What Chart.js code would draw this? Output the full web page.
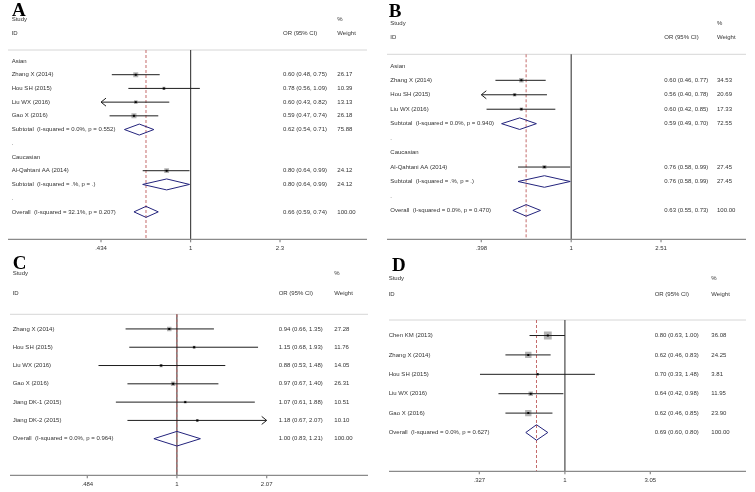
<!DOCTYPE html>
<html>
<head>
<meta charset="utf-8">
<title>Forest plots</title>
<script src="https://cdn.jsdelivr.net/npm/chart.js@4.4.1/dist/chart.umd.min.js"></script>
<style>
  body { margin: 0; background: #fff; }
  canvas { position: absolute; }
</style>
</head>
<body>
<canvas id="chartA" width="377" height="258" style="left:0;top:0"></canvas>
<canvas id="chartB" width="378" height="258" style="left:377px;top:0"></canvas>
<canvas id="chartC" width="377" height="246" style="left:0;top:246px"></canvas>
<canvas id="chartD" width="378" height="246" style="left:377px;top:246px"></canvas>
<script>
// ---- panel A data
const groupsA = ["Asian", "Caucasian"];
const studiesA = ["Zhang X (2014)", "Hou SH (2015)", "Liu WX (2016)", "Gao X (2016)", "Al-Qahtani AA (2014)"];
const groupOfA = [0, 0, 0, 0, 1];
const orA = [0.60, 0.78, 0.60, 0.59, 0.80];
const lowA = [0.48, 0.56, 0.43, 0.47, 0.64];
const highA = [0.75, 1.09, 0.82, 0.74, 0.99];
const weightA = [26.17, 10.39, 13.13, 26.18, 24.12];
const subLabelsA = ["Subtotal  (I-squared = 0.0%, p = 0.552)", "Subtotal  (I-squared = .%, p = .)"];
const subOrA = [0.62, 0.80];
const subLowA = [0.54, 0.64];
const subHighA = [0.71, 0.99];
const subWeightA = [75.88, 24.12];
const overallA = { label: "Overall  (I-squared = 32.1%, p = 0.207)", or: 0.66, low: 0.59, high: 0.74, weight: 100.00 };
const ticksA = [0.434, 1, 2.3];
const tickLabelsA = [".434", "1", "2.3"];

// ---- panel B data
const groupsB = ["Asian", "Caucasian"];
const studiesB = ["Zhang X (2014)", "Hou SH (2015)", "Liu WX (2016)", "Al-Qahtani AA (2014)"];
const groupOfB = [0, 0, 0, 1];
const orB = [0.60, 0.56, 0.60, 0.76];
const lowB = [0.46, 0.398, 0.42, 0.58];
const highB = [0.77, 0.78, 0.85, 0.99];
const weightB = [34.53, 20.69, 17.33, 27.45];
const subLabelsB = ["Subtotal  (I-squared = 0.0%, p = 0.940)", "Subtotal  (I-squared = .%, p = .)"];
const subOrB = [0.59, 0.76];
const subLowB = [0.49, 0.58];
const subHighB = [0.70, 0.99];
const subWeightB = [72.55, 27.45];
const overallB = { label: "Overall  (I-squared = 0.0%, p = 0.470)", or: 0.63, low: 0.55, high: 0.73, weight: 100.00 };
const ticksB = [0.398, 1, 2.51];
const tickLabelsB = [".398", "1", "2.51"];

// ---- panel C data
const studiesC = ["Zhang X (2014)", "Hou SH (2015)", "Liu WX (2016)", "Gao X (2016)", "Jiang DK-1 (2015)", "Jiang DK-2 (2015)"];
const orC = [0.94, 1.15, 0.88, 0.97, 1.07, 1.18];
const lowC = [0.66, 0.68, 0.53, 0.67, 0.61, 0.67];
const highC = [1.35, 1.93, 1.48, 1.40, 1.88, 2.07];
const weightC = [27.28, 11.76, 14.05, 26.31, 10.51, 10.10];
const overallC = { label: "Overall  (I-squared = 0.0%, p = 0.964)", or: 1.00, low: 0.83, high: 1.21, weight: 100.00 };
const ticksC = [0.484, 1, 2.07];
const tickLabelsC = [".484", "1", "2.07"];

// ---- panel D data
const studiesD = ["Chen KM (2013)", "Zhang X (2014)", "Hou SH (2015)", "Liu WX (2016)", "Gao X (2016)"];
const orD = [0.80, 0.62, 0.70, 0.64, 0.62];
const lowD = [0.63, 0.46, 0.33, 0.42, 0.46];
const highD = [1.00, 0.83, 1.48, 0.98, 0.85];
const weightD = [36.08, 24.25, 3.81, 11.95, 23.90];
const overallD = { label: "Overall  (I-squared = 0.0%, p = 0.627)", or: 0.69, low: 0.60, high: 0.80, weight: 100.00 };
const ticksD = [0.327, 1, 3.05];
const tickLabelsD = [".327", "1", "3.05"];

const TEXT_FONT = "6px 'Liberation Sans', Arial, sans-serif";
const TEXT_COLOR = "#333";
const CI_COLOR = "#1e1e1e";
const DIAMOND_COLOR = "#23237c";

// turn the arrays into the rows of the plot (top to bottom)
function buildRows(d) {
  const rows = [];
  const add = (kind, label, vals) => rows.push(Object.assign({ kind: kind, label: label, y: rows.length }, vals || {}));
  const addStudy = (i) => add("study", d.studies[i], { or: d.or[i], low: d.low[i], high: d.high[i], weight: d.weight[i] });
  if (d.groups) {
    d.groups.forEach(function (g, gi) {
      add("group", g);
      d.studies.forEach(function (s, i) {
        if (d.groupOf[i] === gi) addStudy(i);
      });
      add("sub", d.subLabels[gi], { or: d.subOr[gi], low: d.subLow[gi], high: d.subHigh[gi], weight: d.subWeight[gi] });
      add("blank", ".");
    });
  } else {
    d.studies.forEach(function (s, i) { addStudy(i); });
  }
  add("overall", d.overall.label, d.overall);
  return rows;
}

function forestPlugin(rows, d, L) {
  const f = (v) => v.toFixed(2);
  return {
    id: "forest" + L.letter,
    beforeDatasetsDraw(chart) {
      const { ctx, chartArea, scales: { x } } = chart;
      ctx.save();
      // header rule
      ctx.strokeStyle = "#d6d6d6";
      ctx.lineWidth = 1;
      ctx.beginPath();
      ctx.moveTo(L.lineX0, chartArea.top);
      ctx.lineTo(L.lineX1, chartArea.top);
      ctx.stroke();
      // null line
      const x1 = x.getPixelForValue(1);
      ctx.strokeStyle = "#4a4a4a";
      ctx.lineWidth = 1.2;
      ctx.beginPath();
      ctx.moveTo(x1, chartArea.top);
      ctx.lineTo(x1, chartArea.bottom);
      ctx.stroke();
      // overall estimate line
      const xo = x.getPixelForValue(d.overall.or);
      ctx.strokeStyle = "#c46a6a";
      ctx.lineWidth = 1;
      ctx.setLineDash([3, 2]);
      ctx.beginPath();
      ctx.moveTo(xo, chartArea.top);
      ctx.lineTo(xo, chartArea.bottom);
      ctx.stroke();
      ctx.restore();
    },
    afterDatasetsDraw(chart) {
      const { ctx, chartArea, scales: { x, y } } = chart;
      const min = d.ticks[0], max = d.ticks[d.ticks.length - 1];
      ctx.save();
      // arrows for cut confidence intervals
      ctx.strokeStyle = CI_COLOR;
      ctx.lineWidth = 1;
      rows.filter(r => r.kind === "study").forEach(function (r) {
        const py = y.getPixelForValue(r.y);
        if (r.low <= min) {
          const px = x.getPixelForValue(min);
          ctx.beginPath();
          ctx.moveTo(px + 5, py - 4);
          ctx.lineTo(px, py);
          ctx.lineTo(px + 5, py + 4);
          ctx.stroke();
        }
        if (r.high >= max) {
          const px = x.getPixelForValue(max);
          ctx.beginPath();
          ctx.moveTo(px - 5, py - 4);
          ctx.lineTo(px, py);
          ctx.lineTo(px - 5, py + 4);
          ctx.stroke();
        }
      });
      // x axis
      ctx.strokeStyle = "#8a8a8a";
      ctx.lineWidth = 1.2;
      ctx.beginPath();
      ctx.moveTo(L.lineX0, chartArea.bottom);
      ctx.lineTo(L.lineX1, chartArea.bottom);
      ctx.stroke();
      ctx.font = TEXT_FONT;
      ctx.fillStyle = TEXT_COLOR;
      ctx.textAlign = "center";
      ctx.textBaseline = "middle";
      d.ticks.forEach(function (t, i) {
        const px = x.getPixelForValue(t);
        ctx.beginPath();
        ctx.moveTo(px, chartArea.bottom);
        ctx.lineTo(px, chartArea.bottom + 3);
        ctx.stroke();
        ctx.fillText(d.tickLabels[i], px, chartArea.bottom + 9);
      });
      // text columns
      ctx.textAlign = "left";
      ctx.fillText("Study", L.labelX, L.studyY);
      ctx.fillText("ID", L.labelX, L.idY);
      ctx.fillText("OR (95% CI)", L.orX, L.idY);
      ctx.fillText("%", L.wX, L.studyY);
      ctx.fillText("Weight", L.wX, L.idY);
      rows.forEach(function (r) {
        const py = y.getPixelForValue(r.y);
        ctx.fillText(r.label, L.labelX, py);
        if (r.or !== undefined) {
          ctx.fillText(f(r.or) + " (" + f(r.low) + ", " + f(r.high) + ")", L.orX, py);
          ctx.fillText(r.weight.toFixed(2), L.wX, py);
        }
      });
      // panel letter
      ctx.font = "bold 19px 'Liberation Serif', 'Times New Roman', serif";
      ctx.fillStyle = "#000";
      ctx.textBaseline = "alphabetic";
      ctx.fillText(L.letter, L.letterX, L.letterY);
      ctx.restore();
    }
  };
}

function drawForest(canvasId, d, L) {
  const rows = buildRows(d);
  const min = d.ticks[0], max = d.ticks[d.ticks.length - 1];
  const studyRows = rows.filter(r => r.kind === "study");
  const points = studyRows.map(r => ({ x: r.or, y: r.y }));
  const datasets = [];

  // weight boxes
  datasets.push({
    type: "scatter",
    order: 3,
    data: points,
    pointStyle: "rect",
    pointRadius: studyRows.map(r => L.boxK * Math.sqrt(r.weight) / Math.SQRT2),
    backgroundColor: "#b4b4b4",
    borderWidth: 0
  });
  // confidence intervals
  studyRows.forEach(function (r) {
    datasets.push({
      type: "line",
      order: 2,
      data: [{ x: Math.max(r.low, min), y: r.y }, { x: Math.min(r.high, max), y: r.y }],
      borderColor: CI_COLOR,
      borderWidth: 1,
      pointRadius: 0
    });
  });
  // point estimates
  datasets.push({
    type: "scatter",
    order: 1,
    data: points,
    pointStyle: "rect",
    pointRadius: 1.4,
    backgroundColor: "#000",
    borderWidth: 0
  });
  // pooled diamonds
  rows.filter(r => r.kind === "sub" || r.kind === "overall").forEach(function (r) {
    datasets.push({
      type: "line",
      order: 2,
      data: [
        { x: r.low, y: r.y },
        { x: r.or, y: r.y - 0.4 },
        { x: r.high, y: r.y },
        { x: r.or, y: r.y + 0.4 },
        { x: r.low, y: r.y }
      ],
      borderColor: DIAMOND_COLOR,
      borderWidth: 1,
      pointRadius: 0,
      fill: false,
      tension: 0
    });
  });

  const canvas = document.getElementById(canvasId);
  return new Chart(canvas.getContext("2d"), {
    type: "scatter",
    data: { datasets: datasets },
    options: {
      responsive: false,
      animation: false,
      events: [],
      layout: {
        padding: { left: L.left, right: canvas.width - L.right, top: L.top, bottom: canvas.height - L.bottom }
      },
      scales: {
        x: { type: "logarithmic", min: min, max: max, display: false },
        y: { type: "linear", reverse: true, min: -0.8, max: rows.length + 1, display: false }
      },
      plugins: { legend: { display: false }, tooltip: { enabled: false } }
    },
    plugins: [forestPlugin(rows, d, L)]
  });
}

drawForest("chartA",
  { groups: groupsA, studies: studiesA, groupOf: groupOfA, or: orA, low: lowA, high: highA, weight: weightA,
    subLabels: subLabelsA, subOr: subOrA, subLow: subLowA, subHigh: subHighA, subWeight: subWeightA,
    overall: overallA, ticks: ticksA, tickLabels: tickLabelsA },
  { letter: "A", letterX: 12, letterY: 16, left: 101, right: 280, top: 50, bottom: 239.3,
    studyY: 19.5, idY: 33, labelX: 11.7, orX: 283, wX: 337.3, lineX0: 8, lineX1: 367, boxK: 0.98 });

drawForest("chartB",
  { groups: groupsB, studies: studiesB, groupOf: groupOfB, or: orB, low: lowB, high: highB, weight: weightB,
    subLabels: subLabelsB, subOr: subOrB, subLow: subLowB, subHigh: subHighB, subWeight: subWeightB,
    overall: overallB, ticks: ticksB, tickLabels: tickLabelsB },
  { letter: "B", letterX: 11.7, letterY: 16.7, left: 104.3, right: 284, top: 54.3, bottom: 239.3,
    studyY: 23.3, idY: 37.3, labelX: 13.3, orX: 287.3, wX: 340, lineX0: 10, lineX1: 369, boxK: 0.77 });

drawForest("chartC",
  { studies: studiesC, or: orC, low: lowC, high: highC, weight: weightC,
    overall: overallC, ticks: ticksC, tickLabels: tickLabelsC },
  { letter: "C", letterX: 12.7, letterY: 22.7, left: 87.3, right: 266.7, top: 68.3, bottom: 229.3,
    studyY: 27.3, idY: 47.7, labelX: 12.7, orX: 278.7, wX: 334.3, lineX0: 10, lineX1: 368, boxK: 0.86 });

drawForest("chartD",
  { studies: studiesD, or: orD, low: lowD, high: highD, weight: weightD,
    overall: overallD, ticks: ticksD, tickLabels: tickLabelsD },
  { letter: "D", letterX: 15, letterY: 25, left: 95.7, right: 273.3, top: 74, bottom: 225.3,
    studyY: 32, idY: 48.3, labelX: 11.7, orX: 277.7, wX: 334.3, lineX0: 12, lineX1: 369, boxK: 1.3 });
</script>
</body>
</html>
